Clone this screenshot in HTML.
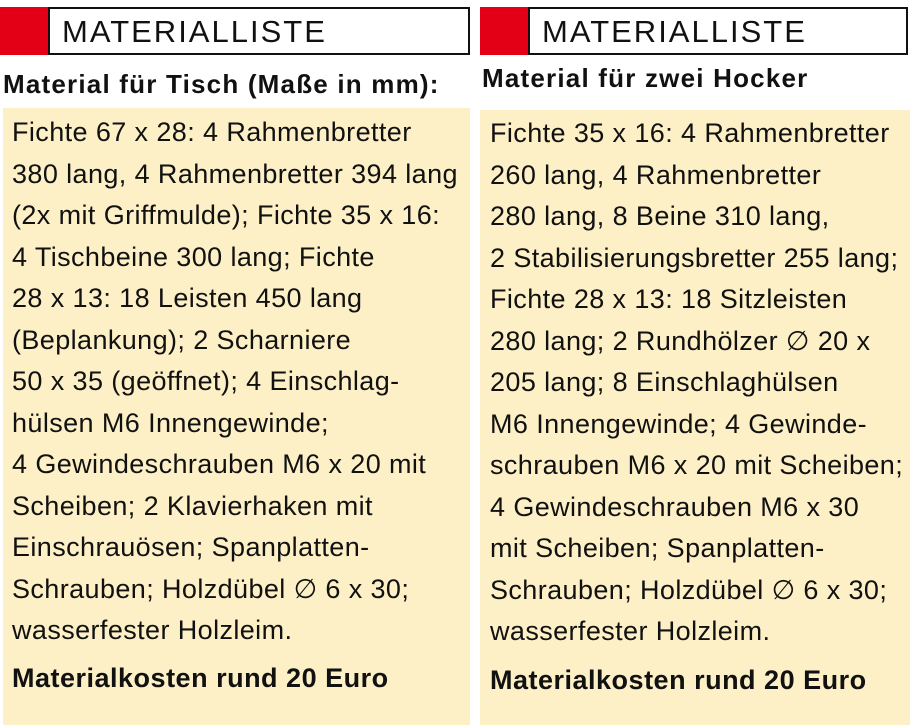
<!DOCTYPE html>
<html><head><meta charset="utf-8"><style>
body{margin:0;width:910px;height:725px;background:#fff;position:relative;overflow:hidden;font-family:"Liberation Sans","DejaVu Sans",sans-serif;color:#111}
.red{position:absolute;background:#e30016;top:7px;height:48px;width:48px}
.box{position:absolute;top:7px;height:44px;border:2px solid #111;background:#fff;font-size:31px;line-height:46px;padding-left:12px;letter-spacing:2px;box-sizing:content-box}
.sub{position:absolute;font-weight:bold;font-size:26px;letter-spacing:1.2px;white-space:nowrap}
.yel{position:absolute;background:#fdf0c6;bottom:0}
.t{position:absolute;font-size:27px;letter-spacing:0.4px;line-height:41.5px;white-space:pre}
.b{font-weight:bold;letter-spacing:0.5px}
</style></head><body>
<div class="red" style="left:0"></div>
<div class="box" style="left:48px;width:406px">MATERIALLISTE</div>
<div class="sub" style="left:3px;top:69px">Material für Tisch (Maße in mm):</div>
<div class="yel" style="left:3px;width:467px;top:108px"></div>
<div class="t" style="left:12px;top:112px">Fichte 67 x 28: 4 Rahmenbretter
380 lang, 4 Rahmenbretter 394 lang
(2x mit Griffmulde); Fichte 35 x 16:
4 Tischbeine 300 lang; Fichte
28 x 13: 18 Leisten 450 lang
(Beplankung); 2 Scharniere
50 x 35 (geöffnet); 4 Einschlag-
hülsen M6 Innengewinde;
4 Gewindeschrauben M6 x 20 mit
Scheiben; 2 Klavierhaken mit
Einschrauösen; Spanplatten-
Schrauben; Holzdübel ∅ 6 x 30;
wasserfester Holzleim.</div>
<div class="t b" style="left:12px;top:658px">Materialkosten rund 20 Euro</div>

<div class="red" style="left:480px"></div>
<div class="box" style="left:528px;width:364px">MATERIALLISTE</div>
<div class="sub" style="left:482px;top:63px">Material für zwei Hocker</div>
<div class="yel" style="left:480px;width:430px;top:110px"></div>
<div class="t" style="left:490px;top:113px">Fichte 35 x 16: 4 Rahmenbretter
260 lang, 4 Rahmenbretter
280 lang, 8 Beine 310 lang,
2 Stabilisierungsbretter 255 lang;
Fichte 28 x 13: 18 Sitzleisten
280 lang; 2 Rundhölzer ∅ 20 x
205 lang; 8 Einschlaghülsen
M6 Innengewinde; 4 Gewinde-
schrauben M6 x 20 mit Scheiben;
4 Gewindeschrauben M6 x 30
mit Scheiben; Spanplatten-
Schrauben; Holzdübel ∅ 6 x 30;
wasserfester Holzleim.</div>
<div class="t b" style="left:490px;top:660px">Materialkosten rund 20 Euro</div>
</body></html>
